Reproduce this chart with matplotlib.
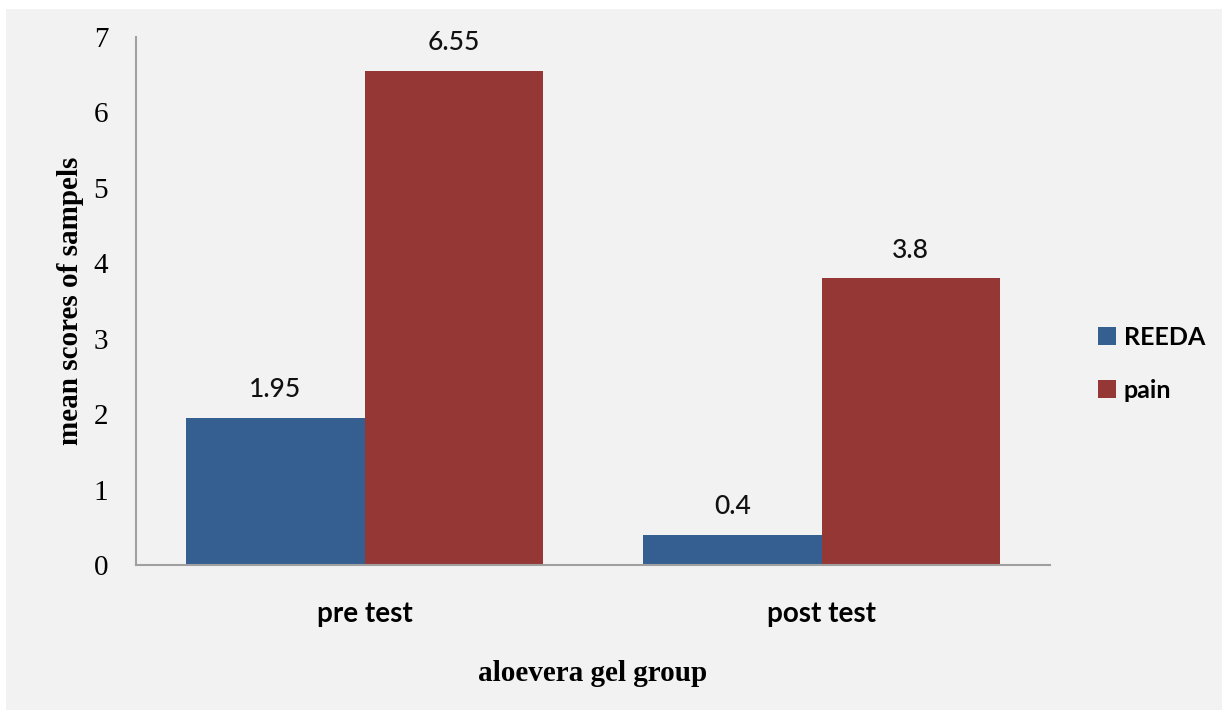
import matplotlib.pyplot as plt
import numpy as np
from matplotlib.patches import Rectangle

# mean scores per test phase
groups = ['pre test', 'post test']
reeda = [1.95, 0.4]
pain = [6.55, 3.8]
series_names = ['REEDA', 'pain']
colors = ['#365f91', '#953735']

fig = plt.figure(figsize=(12.22, 7.10), dpi=100)
fig.patch.set_facecolor('white')
# light grey chart area with a thin white margin top/left
fig.patches.append(Rectangle((6 / 1222, 0), 1 - 6 / 1222, 1 - 9 / 710,
                             transform=fig.transFigure, facecolor='#f2f2f2',
                             edgecolor='none', zorder=-10))

ax = fig.add_axes([136 / 1222, 1 - 565 / 710, 914 / 1222, 528 / 710])
ax.set_facecolor('none')

x = np.arange(len(groups))
w = 0.39
b1 = ax.bar(x - w / 2, reeda, w, color=colors[0], label=series_names[0], zorder=2)
b2 = ax.bar(x + w / 2, pain, w, color=colors[1], label=series_names[1], zorder=2)

for bars, vals in ((b1, reeda), (b2, pain)):
    for rect, v in zip(bars, vals):
        ax.annotate(f'{v:g}', (rect.get_x() + rect.get_width() / 2, v),
                    xytext=(0, 15), textcoords='offset points',
                    ha='center', va='baseline', fontsize=19, family='Lato',
                    fontweight='medium', color='#111111')

ax.set_xlim(-0.5, 1.5)
ax.set_ylim(0, 7)
ax.set_yticks(range(8))
ax.set_xticks(x)
ax.set_xticklabels(groups, family='Lato', fontweight='bold', fontsize=20)
ax.tick_params(axis='x', length=0, pad=26)
ax.tick_params(axis='y', length=0, pad=20)
for lab in ax.get_yticklabels():
    lab.set_family('Liberation Serif')
    lab.set_fontsize(21)

for s in ('top', 'right'):
    ax.spines[s].set_visible(False)
for s in ('left', 'bottom'):
    ax.spines[s].set_color('#a0a0a0')
    ax.spines[s].set_linewidth(1.5)

ax.set_ylabel('mean scores of sampels', family='Liberation Serif',
              fontweight='bold', fontsize=21, labelpad=7)
ax.set_xlabel('aloevera gel group', family='Liberation Serif',
              fontweight='bold', fontsize=21, labelpad=24)

leg = ax.legend(loc='center left', bbox_to_anchor=(1075 / 1222, 1 - 364 / 710),
                bbox_transform=fig.transFigure, frameon=False,
                prop={'family': 'Lato', 'weight': 'bold', 'size': 18},
                handlelength=0.75, handleheight=0.75, handletextpad=0.3,
                labelspacing=1.2)

fig.savefig('out.png', dpi=100, facecolor=fig.get_facecolor())
